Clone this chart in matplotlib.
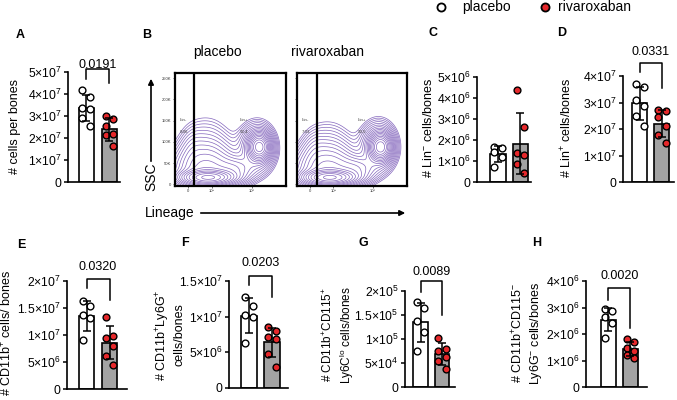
import numpy as np
import matplotlib.pyplot as plt

plt.rcParams["font.family"] = ["Liberation Sans", "DejaVu Sans"]
plt.rcParams["mathtext.default"] = "regular"

W, H = 677, 400
RED = "#e5282b"
GREY = "#a3a3a3"
PURPLE = "#8466bd"

# ── 데이터 ─────────────────────────────────
groups = ["placebo", "rivaroxaban"]

A_pla = [4.2e7, 3.85e7, 3.35e7, 3.3e7, 2.9e7, 2.55e7]
A_riv = [2.98e7, 2.88e7, 2.53e7, 2.2e7, 2.12e7, 1.62e7]
C_pla = [1.65e6, 1.6e6, 1.45e6, 1.2e6, 0.7e6]
C_riv = [4.37e6, 2.62e6, 1.38e6, 1.27e6, 0.87e6, 0.43e6]
D_pla = [3.7e7, 3.6e7, 3.1e7, 2.85e7, 2.5e7, 2.1e7]
D_riv = [2.72e7, 2.68e7, 2.44e7, 2.11e7, 1.77e7, 1.48e7]
E_pla = [1.63e7, 1.53e7, 1.37e7, 1.31e7, 0.91e7]
E_riv = [1.33e7, 0.98e7, 0.95e7, 0.8e7, 0.62e7, 0.45e7]
F_pla = [1.27e7, 1.15e7, 1.03e7, 1.0e7, 0.63e7]
F_riv = [0.85e7, 0.8e7, 0.72e7, 0.68e7, 0.48e7, 0.3e7]
G_pla = [1.78e5, 1.65e5, 1.38e5, 1.15e5, 0.76e5]
G_riv = [1.02e5, 0.8e5, 0.75e5, 0.62e5, 0.55e5, 0.38e5]
H_pla = [2.95e6, 2.85e6, 2.65e6, 2.4e6, 1.85e6]
H_riv = [1.8e6, 1.68e6, 1.46e6, 1.34e6, 1.21e6, 1.09e6]

A_ticks = [0, 1e7, 2e7, 3e7, 4e7, 5e7]
C_ticks = [0, 1e6, 2e6, 3e6, 4e6, 5e6]
D_ticks = [0, 1e7, 2e7, 3e7, 4e7]
E_ticks = [0, 5e6, 1e7, 1.5e7, 2e7]
F_ticks = [0, 5e6, 1e7, 1.5e7]
G_ticks = [0, 5e4, 1e5, 1.5e5, 2e5]
H_ticks = [0, 1e6, 2e6, 3e6, 4e6]

pvals = {"A": "0.0191", "D": "0.0331", "E": "0.0320",
         "F": "0.0203", "G": "0.0089", "H": "0.0020"}

# 유세포 분석 게이트 비율
gate_pla = ["8,06", "92,4"]
gate_riv = ["7,03", "93,5"]

# 등고선용 밀도 성분 (x 중심, y 중심[K], x 폭, y 폭[K], 가중치)
comps_pla = [(0.30, 16, 0.12, 9, 1.0), (0.28, 30, 0.16, 35, 0.22),
             (0.28, 70, 0.14, 48, 0.06), (0.16, 85, 0.06, 28, 0.02),
             (0.76, 88, 0.05, 16, 0.9), (0.74, 85, 0.09, 32, 0.15),
             (0.55, 35, 0.10, 18, 0.12)]
comps_riv = [(0.30, 16, 0.12, 9, 1.0), (0.28, 30, 0.16, 33, 0.22),
             (0.28, 66, 0.14, 45, 0.06), (0.16, 80, 0.06, 26, 0.02),
             (0.76, 88, 0.05, 16, 0.95), (0.74, 88, 0.09, 32, 0.15),
             (0.55, 35, 0.10, 18, 0.12)]


def sci(v):
    if v == 0:
        return "0"
    e = int(np.floor(np.log10(v)))
    m = v / 10 ** e
    return f"${m:g}{{\\times}}10^{{{e}}}$"


def px(x0, y0, x1, y1):
    return [x0 / W, 1 - y1 / H, (x1 - x0) / W, (y1 - y0) / H]


fig = plt.figure(figsize=(W / 100, H / 100), dpi=100)


def bar_panel(rect, xlim, pla, riv, ticks, key=None, br=None):
    ax = fig.add_axes(px(*rect))
    means = [np.mean(pla), np.mean(riv)]
    sds = [np.std(pla, ddof=1), np.std(riv, ddof=1)]
    ax.bar([0, 1], means, width=0.68, color=["white", GREY],
           edgecolor="black", linewidth=1.2, zorder=1)
    for i, (vals, fc) in enumerate([(pla, "white"), (riv, RED)]):
        offs = np.array([-0.17 if k % 2 == 0 else 0.17 for k in range(len(vals))])
        ax.scatter(i + offs, vals, s=24, facecolor=fc, edgecolor="black",
                   linewidth=1.0, zorder=3, clip_on=False)
    ax.errorbar([0, 1], means, yerr=sds, fmt="none", ecolor="black",
                elinewidth=1.1, capsize=3, capthick=1.1, zorder=4)
    ax.set_xlim(xlim)
    ax.set_ylim(ticks[0], ticks[-1])
    ax.set_yticks(ticks)
    ax.set_yticklabels([sci(t) for t in ticks])
    ax.set_xticks([])
    for s in ["top", "right"]:
        ax.spines[s].set_visible(False)
    for s in ["left", "bottom"]:
        ax.spines[s].set_linewidth(1.2)
    ax.tick_params(axis="y", length=3, width=1.1, labelsize=8.8, pad=1.5)
    ax.patch.set_alpha(0)
    if br is not None:
        yl, yt, yr, ytx = br
        tr = ax.get_xaxis_transform()
        ax.plot([0, 0, 1, 1], [yl, yt, yt, yr], transform=tr, color="black",
                lw=1.1, clip_on=False)
        ax.text(0.5, ytx, pvals[key], transform=tr, ha="center", va="center",
                fontsize=9)
    return ax


def flow_panel(rect, comps, gate_x, gate_txt, gate_pos, show_labels):
    ax = fig.add_axes(px(*rect))
    xx, yy = np.meshgrid(np.linspace(0, 1, 300), np.linspace(-4, 262, 300))
    z = np.zeros_like(xx)
    for mx, my, sx, sy, w in comps:
        z += w * np.exp(-0.5 * (((xx - mx) / sx) ** 2 + ((yy - my) / sy) ** 2))
    levels = z.max() * np.geomspace(0.01, 0.9, 18)
    ax.contour(xx, yy, z, levels=levels, colors=PURPLE, linewidths=0.5)
    ax.axvline(gate_x, color="black", lw=1.6)
    ax.set_xlim(0, 1)
    ax.set_ylim(-4, 262)
    for s in ax.spines.values():
        s.set_linewidth(1.6)
    ax.set_yticks([0, 50, 100, 150, 200, 250])
    ax.set_xticks([0.12, 0.33, 0.69])
    if show_labels:
        ax.set_yticklabels(["0", "50K", "100K", "150K", "200K", "250K"])
    else:
        ax.set_yticklabels([])
    ax.set_xticklabels(["0", "10²", "10³"])
    ax.tick_params(length=1.5, width=0.5, labelsize=3, pad=1, colors="#333333")
    (lx, rx) = gate_pos
    ax.text(lx, 150, "Lin-", fontsize=3.2, color="#444444")
    ax.text(lx, 123, gate_txt[0], fontsize=3.2, color="#444444")
    ax.text(rx, 150, "Lin+", fontsize=3.2, color="#444444")
    ax.text(rx, 123, gate_txt[1], fontsize=3.2, color="#444444")
    return ax


# ── 막대 패널 ─────────────────────────────────────
bar_panel((68, 72, 120, 182), (-0.80, 1.46), A_pla, A_riv, A_ticks, "A",
          (0.936, 1.027, 0.90, 1.064))
bar_panel((477, 77, 531, 182), (-0.93, 1.47), C_pla, C_riv, C_ticks)
bar_panel((623, 76, 674, 182), (-0.77, 1.55), D_pla, D_riv, D_ticks, "D",
          (1.04, 1.12, 0.89, 1.23))
bar_panel((67, 281, 127, 389), (-0.85, 1.76), E_pla, E_riv, E_ticks, "E",
          (0.935, 1.02, 0.82, 1.13))
bar_panel((229, 281, 288, 388), (-0.85, 1.66), F_pla, F_riv, F_ticks, "F",
          (0.96, 1.05, 0.85, 1.17))
bar_panel((405, 291, 455, 387), (-0.72, 1.60), G_pla, G_riv, G_ticks, "G",
          (0.99, 1.10, 0.75, 1.20))
bar_panel((586, 281, 647, 387), (-1.02, 1.75), H_pla, H_riv, H_ticks, "H",
          (0.82, 0.934, 0.557, 1.05))

# ── 유세포 패널 (B) ───────────────────────────────
flow_panel((175, 73, 286, 186), comps_pla, 0.17, gate_pla, (0.04, 0.585), True)
flow_panel((297, 73, 407, 186), comps_riv, 0.18, gate_riv, (0.04, 0.555), False)

# ── 텍스트/화살표 오버레이 ────────────────────────
ov = fig.add_axes([0, 0, 1, 1])
ov.set_xlim(0, W)
ov.set_ylim(H, 0)
ov.axis("off")
ov.patch.set_alpha(0)

for letter, (x, y) in {"A": (20, 35), "B": (147, 35), "C": (433, 33),
                       "D": (562, 33), "E": (21, 245), "F": (185, 243),
                       "G": (363, 243), "H": (537, 243)}.items():
    ov.text(x, y, letter, fontsize=9, fontweight="bold", ha="center", va="center")

# 범례
ov.scatter([441], [7], s=34, facecolor="white", edgecolor="black", linewidth=1.3)
ov.text(462, 7, groups[0], fontsize=10, va="center", ha="left")
ov.scatter([545], [7], s=34, facecolor=RED, edgecolor="black", linewidth=1.3)
ov.text(558, 7, groups[1], fontsize=10, va="center", ha="left")

ov.text(217, 52, groups[0], fontsize=10, ha="center", va="center")
ov.text(327, 52, groups[1], fontsize=10, ha="center", va="center")
ov.annotate("", xy=(151, 76), xytext=(151, 164),
            arrowprops=dict(arrowstyle="-|>", color="black", lw=1.2,
                            mutation_scale=8))
ov.text(151, 177, "SSC", fontsize=10, rotation=90, ha="center", va="center")
ov.text(145, 213, "Lineage", fontsize=10, ha="left", va="center")
ov.annotate("", xy=(408, 213), xytext=(198, 213),
            arrowprops=dict(arrowstyle="-|>", color="black", lw=1.2,
                            mutation_scale=8))

# y축 라벨
ylabels = [
    (15, 127, "# cells per bones", 1.2, 9),
    (428, 128, "# Lin$^{-}$ cells/bones", 1.2, 9),
    (567, 128, "# Lin$^{+}$ cells/bones", 1.2, 9),
    (7, 333, "# CD11b$^{+}$ cells/ bones", 1.2, 9),
    (170, 335, "# CD11b$^{+}$Ly6G$^{+}$\ncells/bones", 1.15, 9),
    (339, 335, "# CD11b$^{+}$CD115$^{+}$\nLy6C$^{lo}$ cells/bones", 1.2, 8.5),
    (527, 333, "# CD11b$^{+}$CD115$^{-}$\nLy6G$^{-}$ cells/bones", 1.3, 9),
]
for x, y, t, ls, fs in ylabels:
    ov.text(x, y, t, fontsize=fs, rotation=90, ha="center", va="center",
            multialignment="center", linespacing=ls)

plt.savefig("out.png", dpi=100)
